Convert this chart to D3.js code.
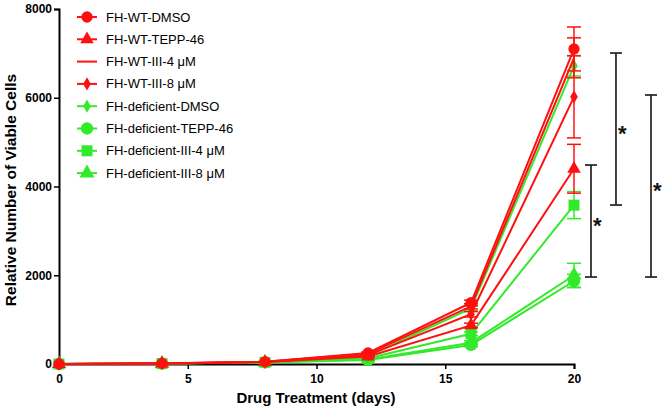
<!DOCTYPE html>
<html><head><meta charset="utf-8">
<script src="https://cdn.jsdelivr.net/npm/d3@7/dist/d3.min.js"></script>
<style>
body{margin:0;background:#fff;}
svg{display:block;font-family:"Liberation Sans",Arial,Helvetica,sans-serif;}
</style></head>
<body><svg id="c" width="666" height="412"></svg>
<script>
// ---- data ----
const days = [0, 4, 8, 12, 16, 20];
const seriesNames = ["FH-WT-DMSO","FH-WT-TEPP-46","FH-WT-III-4 μM","FH-WT-III-8 μM",
  "FH-deficient-DMSO","FH-deficient-TEPP-46","FH-deficient-III-4 μM","FH-deficient-III-8 μM"];
const wtDMSO    = [0, 15, 50, 250, 1380, 7100];
const wtTEPP    = [0, 12, 45, 170, 870, 4400];
const wtIII4    = [0, 14, 48, 230, 1300, 6900];
const wtIII8    = [0, 13, 46, 200, 1120, 6020];
const defDMSO   = [0, 12, 40, 180, 1250, 6720];
const defTEPP   = [0, 10, 35, 90, 430, 1870];
const defIII4   = [0, 10, 38, 130, 680, 3580];
const defIII8   = [0, 10, 35, 100, 480, 2000];
const errWtDMSO  = [0, 2, 5, 20, 60, 495];
const errWtTEPP  = [0, 2, 5, 20, 50, 550];
const errWtIII4  = [0, 2, 5, 20, 60, 450];
const errWtIII8  = [0, 2, 5, 20, 60, 925];
const errDefDMSO = [0, 2, 5, 20, 50, 230];
const errDefTEPP = [0, 2, 5, 15, 40, 150];
const errDefIII4 = [0, 2, 5, 15, 40, 305];
const errDefIII8 = [0, 2, 5, 15, 40, 270];
const xTicks = [0, 5, 10, 15, 20];
const yTicks = [0, 2000, 4000, 6000, 8000];
// significance brackets: x position (days), low value, high value
const sigX    = [21.63, 20.66, 22.99];
const sigLow  = [3583, 1960, 1960];
const sigHigh = [7008, 4484, 6062];

const RED = "#ff1010", GREEN = "#33ea2a";
const series = [
  {name: seriesNames[0], v: wtDMSO, e: errWtDMSO, c: RED, s: "circle", size: 100},
  {name: seriesNames[1], v: wtTEPP, e: errWtTEPP, c: RED, s: "triangle", size: 80},
  {name: seriesNames[2], v: wtIII4, e: errWtIII4, c: RED, s: "none", size: 0},
  {name: seriesNames[3], v: wtIII8, e: errWtIII8, c: RED, s: "diamond", size: 50},
  {name: seriesNames[4], v: defDMSO, e: errDefDMSO, c: GREEN, s: "diamond", size: 50},
  {name: seriesNames[5], v: defTEPP, e: errDefTEPP, c: GREEN, s: "circle", size: 120},
  {name: seriesNames[6], v: defIII4, e: errDefIII4, c: GREEN, s: "square", size: 121},
  {name: seriesNames[7], v: defIII8, e: errDefIII8, c: GREEN, s: "triangle", size: 95}
];
const symMap = {circle: d3.symbolCircle, triangle: d3.symbolTriangle, diamond: d3.symbolDiamond, square: d3.symbolSquare};

const svg = d3.select("#c");
const x = d3.scaleLinear().domain([0, 20]).range([59, 574]);
const y = d3.scaleLinear().domain([0, 8000]).range([364, 9]);

// axes
const gx = svg.append("g").attr("transform", `translate(0,${y(0)})`)
  .call(d3.axisBottom(x).tickValues(xTicks).tickSize(5).tickPadding(5).tickFormat(d3.format("d")));
const gy = svg.append("g").attr("transform", `translate(${x(0)},0)`)
  .call(d3.axisLeft(y).tickValues(yTicks).tickSize(5).tickPadding(2).tickFormat(d3.format("d")));
[gx, gy].forEach(g => {
  g.select(".domain").attr("stroke", "#000").attr("stroke-width", 2);
  g.selectAll(".tick line").attr("stroke", "#000").attr("stroke-width", 1.5);
  g.selectAll(".tick text").attr("fill", "#000").style("font-size", "12px").style("font-weight", "bold")
   .style("font-family", "'Liberation Sans',Arial,sans-serif");
});

svg.append("text").attr("x", 316).attr("y", 403).attr("text-anchor", "middle")
  .style("font-size", "15px").style("font-weight", "bold").text("Drug Treatment (days)");
svg.append("text").attr("transform", "translate(16,190) rotate(-90)").attr("text-anchor", "middle")
  .style("font-size", "15.5px").style("font-weight", "bold").text("Relative Number of Viable Cells");

// draw green series first, red on top
const drawOrder = [4,5,6,7,0,1,2,3];
const line = d3.line().x((d,i) => x(days[i])).y(d => y(d));
drawOrder.forEach(k => {
  const s = series[k];
  const g = svg.append("g");
  // error bars
  s.v.forEach((v, i) => {
    const e = s.e[i];
    if (e <= 0) return;
    const cx = x(days[i]);
    g.append("line").attr("x1", cx).attr("x2", cx).attr("y1", y(v - e)).attr("y2", y(v + e))
      .attr("stroke", s.c).attr("stroke-width", 1.5);
    [v - e, v + e].forEach(t => g.append("line").attr("x1", cx - 7).attr("x2", cx + 7)
      .attr("y1", y(t)).attr("y2", y(t)).attr("stroke", s.c).attr("stroke-width", 1.5));
  });
  g.append("path").attr("d", line(s.v)).attr("fill", "none").attr("stroke", s.c).attr("stroke-width", 2);
  if (s.s !== "none") {
    g.selectAll("path.m").data(s.v).enter().append("path").attr("class", "m")
      .attr("d", d3.symbol().type(symMap[s.s]).size(s.size))
      .attr("transform", (d, i) => `translate(${x(days[i])},${y(d)})`)
      .attr("fill", s.c);
  }
});

// significance brackets
sigX.forEach((sx, i) => {
  const bx = x(sx), y1 = y(sigLow[i]), y2 = y(sigHigh[i]);
  const g = svg.append("g").attr("stroke", "#222").attr("stroke-width", 1.7);
  g.append("line").attr("x1", bx).attr("x2", bx).attr("y1", y1).attr("y2", y2);
  g.append("line").attr("x1", bx - 6).attr("x2", bx + 6).attr("y1", y1).attr("y2", y1);
  g.append("line").attr("x1", bx - 6).attr("x2", bx + 6).attr("y1", y2).attr("y2", y2);
  svg.append("text").attr("x", bx + 2).attr("y", (y1 + y2) / 2 + 12)
    .style("font-size", "22px").style("font-weight", "bold").attr("fill", "#111").text("*");
});

// legend
const leg = svg.append("g");
series.forEach((s, i) => {
  const ly = 17 + i * 22.3;
  leg.append("line").attr("x1", 77).attr("x2", 97).attr("y1", ly).attr("y2", ly)
    .attr("stroke", s.c).attr("stroke-width", 2);
  if (s.s !== "none")
    leg.append("path").attr("d", d3.symbol().type(symMap[s.s]).size(s.size))
      .attr("transform", `translate(87,${ly})`).attr("fill", s.c);
  leg.append("text").attr("x", 106).attr("y", ly + 4.5).style("font-size", "13px")
    .attr("fill", "#000").text(s.name);
});
</script></body></html>
